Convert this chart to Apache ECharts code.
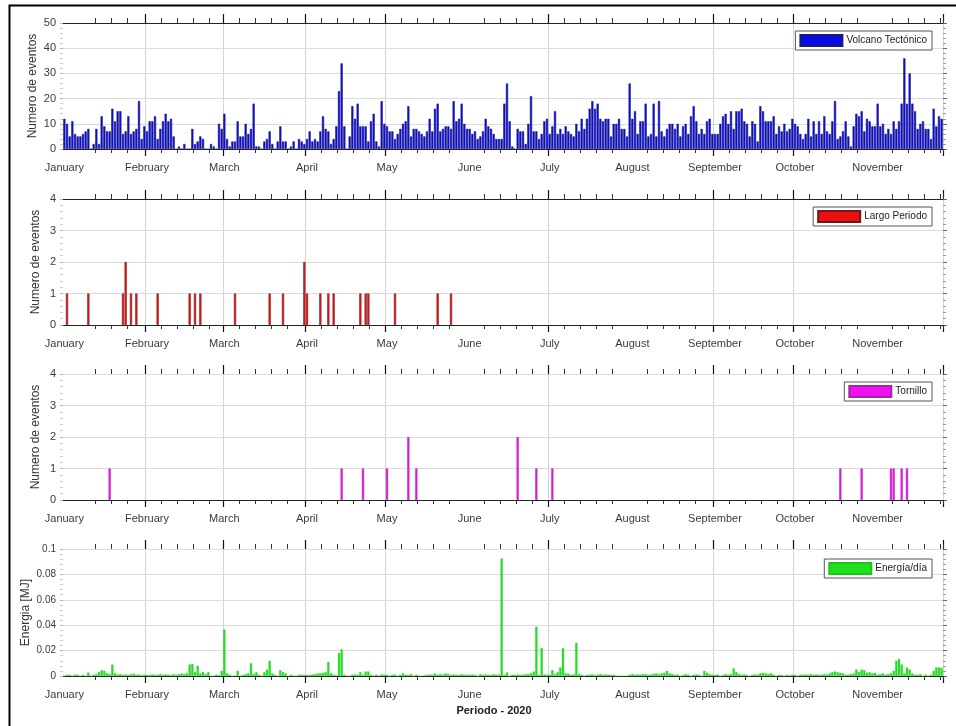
<!DOCTYPE html>
<html>
<head>
<meta charset="utf-8">
<script src="https://cdn.jsdelivr.net/npm/echarts@6/dist/echarts.min.js"></script>
<style>
  html, body { margin: 0; padding: 0; background: #ffffff; }
  #chart { width: 956px; height: 726px; }
</style>
</head>
<body>
<div id="chart"></div>
<script>
// Month labels on the time axis and the months that carry a long tick + grid line
const monthLabels = ['January', 'February', 'March', 'April', 'May', 'June',
                     'July', 'August', 'September', 'October', 'November', 'December'];
const gridMonths = [1, 2, 3, 4, 6, 8, 9];
const minorTickDays = [7, 13, 19, 25];

// Daily number of Volcano-Tectonic events (2020-01-01 .. 2020-11-25)
const vtJan = [12,10,5,11,6,5,5,6,7,8,0,2,8,2,13,9,7,7,16,11,15,15,6,7,13,6,7,8,19,4,9];
const vtFeb = [7,11,11,13,4,8,11,14,11,12,5,0,1,0,2,0,0,8,2,3,5,4,0,0,2,1,0,10,8];
const vtMar = [14,4,1,3,3,11,5,5,10,6,8,18,1,1,0,3,4,7,2,0,3,9,3,3,0,1,3,0,4,3,2];
const vtApr = [4,7,3,4,3,7,13,8,7,2,4,9,23,34,9,0,5,17,12,18,9,9,9,3,11,14,3,1,19,10];
const vtMay = [9,7,7,4,6,8,10,11,17,5,8,8,7,6,5,7,12,7,16,18,7,8,9,9,8,19,11,12,18,10,8];
const vtJun = [8,6,7,4,5,7,12,9,8,6,4,4,4,18,26,11,1,0,8,7,7,2,10,21,7,7,4,6,11,12];
const vtJul = [6,9,15,6,8,6,9,7,6,5,10,7,12,8,12,16,19,16,18,12,11,12,12,5,10,10,12,8,8,5,26];
const vtAug = [12,15,6,11,11,18,5,6,18,5,19,7,5,8,10,10,8,10,5,9,10,6,13,17,11,6,8,6,11,12,6];
const vtSep = [6,6,10,13,14,10,15,8,15,15,16,11,10,5,11,10,3,17,15,11,11,11,13,6,9,7,10,7,8,12];
const vtOct = [10,9,6,4,6,12,5,11,6,11,6,13,7,6,11,19,4,5,7,11,5,1,9,14,13,15,7,12,11,9,9];
const vtNov = [18,9,10,6,8,6,11,8,11,18,36,18,30,18,15,8,10,11,8,8,4,16,9,13,12];

// Long-period events: dates and daily counts
const lpDates = ['2020-01-02','2020-01-10','2020-01-23','2020-01-24','2020-01-26','2020-01-28',
                 '2020-02-05','2020-02-17','2020-02-19','2020-02-21','2020-03-05','2020-03-18',
                 '2020-03-23','2020-03-31','2020-04-01','2020-04-06','2020-04-09','2020-04-11',
                 '2020-04-21','2020-04-23','2020-04-24','2020-05-04','2020-05-20','2020-05-25'];
const lpCounts = [1,1,1,2,1,1, 1,1,1,1,1,1, 1,2,1,1,1,1, 1,1,1,1,1,1];

// Tornillo events: dates and daily counts
const trDates = ['2020-01-18','2020-04-14','2020-04-22','2020-05-01','2020-05-09','2020-05-12',
                 '2020-06-19','2020-06-26','2020-07-02','2020-10-18','2020-10-26','2020-11-06',
                 '2020-11-07','2020-11-10','2020-11-12'];
const trCounts = [1,1,1,1,2,1, 2,1,1,1,1,1, 1,1,1];

// Daily released energy [MJ]
const enJan = [0,0.001,0.001,0,0.0012,0.001,0,0.001,0,0.0027,0,0.001,0.0015,0.003,0.0045,0.004,0.002,0.0015,0.009,0.002,0.0012,0.0015,0.001,0.0012,0.0008,0.0015,0.0018,0.001,0.0012,0.0005,0.001];
const enFeb = [0.001,0.0008,0.0012,0.001,0.001,0.0015,0.001,0.0012,0.001,0.0008,0.0015,0.001,0.0015,0.002,0.0015,0.002,0.009,0.0095,0.003,0.008,0.002,0.003,0.0015,0.003,0,0,0.001,0.0005,0.004];
const enMar = [0.0365,0.002,0.001,0,0,0.004,0,0.001,0.0015,0.002,0.01,0.0015,0.003,0.001,0,0.003,0.005,0.012,0.002,0.001,0,0.0045,0.003,0.002,0,0.001,0,0,0.001,0.001,0.0008];
const enApr = [0.001,0.0008,0.0012,0.0015,0.002,0.002,0.0025,0.003,0.011,0.002,0.001,0.0005,0.018,0.021,0.001,0,0,0.001,0.0012,0.001,0.003,0.001,0.0035,0.0035,0.001,0,0.001,0,0.0012,0.001];
const enMay = [0.001,0,0.001,0.0012,0,0.001,0.002,0.001,0.0008,0.0015,0,0.001,0,0,0.0005,0.001,0.0012,0.001,0.0018,0.001,0.0015,0.0012,0.002,0.0015,0.001,0.0012,0.0008,0.001,0.0015,0.001,0.001];
const enJun = [0.001,0.0012,0.001,0,0.0015,0.001,0.0012,0.0008,0.001,0.0015,0.001,0.0012,0.0925,0.001,0.0027,0,0.001,0.001,0.0012,0.0008,0.001,0.0015,0.0015,0.002,0.0035,0.0387,0.001,0.022,0.0013,0.001];
const enJul = [0.001,0.0045,0.0015,0.003,0.0067,0.022,0.002,0.0018,0.001,0.0012,0.026,0.0015,0.001,0,0.001,0.001,0.0012,0.0008,0.001,0.0015,0.001,0.0012,0.001,0.0008,0.001,0,0,0,0,0,0.001];
const enAug = [0.0015,0.001,0.0012,0.001,0.0015,0.0015,0.001,0.0012,0.0018,0.002,0.0015,0.002,0.0025,0.004,0.002,0.0015,0.001,0.0012,0,0.001,0.0015,0.001,0,0.001,0.0012,0.001,0,0.004,0.0025,0.0015,0.001];
const enSep = [0.001,0.0012,0,0.001,0.0015,0.001,0.0015,0.006,0.003,0.0015,0.001,0.0012,0.001,0,0.001,0.0012,0.001,0.002,0.0025,0.002,0.0015,0.002,0.001,0,0.001,0.0008,0,0.001,0.0005,0.001];
const enOct = [0.001,0,0.001,0.001,0.0012,0.001,0.0015,0.001,0.0012,0.001,0.001,0.0015,0.0012,0.002,0.003,0.0035,0.003,0.0025,0.002,0.001,0.001,0.0015,0.002,0.005,0.003,0.005,0.0045,0.0025,0.003,0.002,0.0025];
const enNov = [0.001,0.0015,0.002,0.001,0.0015,0.002,0.004,0.012,0.0133,0.009,0.002,0.0067,0.005,0.002,0.001,0.001,0.0015,0,0.001,0,0.001,0.004,0.0067,0.0067,0.0065];

const volcanoTectonico = [].concat(vtJan, vtFeb, vtMar, vtApr, vtMay, vtJun, vtJul, vtAug, vtSep, vtOct, vtNov);
const energia = [].concat(enJan, enFeb, enMar, enApr, enMay, enJun, enJul, enAug, enSep, enOct, enNov);

// One category per day
const days = [], dayMonth = [], dayOfMonth = [];
const t0 = Date.UTC(2020, 0, 1);
for (let i = 0; i < volcanoTectonico.length; i++) {
  const dt = new Date(t0 + i * 86400000);
  days.push(dt.toISOString().slice(0, 10));
  dayMonth.push(dt.getUTCMonth());
  dayOfMonth.push(dt.getUTCDate());
}

function dailySeries(dates, counts) {
  const out = days.map(() => null);
  dates.forEach((d, i) => { out[days.indexOf(d)] = counts[i]; });
  return out;
}
const largoPeriodo = dailySeries(lpDates, lpCounts);
const tornillo = dailySeries(trDates, trCounts);

const FONT = 'Liberation Sans, Arial, sans-serif';
const isMonthStart = (i) => dayOfMonth[i] === 1;
const isMajor = (i) => dayOfMonth[i] === 1 && gridMonths.includes(dayMonth[i]);
const isMinor = (i) => minorTickDays.includes(dayOfMonth[i]) && !(dayMonth[i] === 0 && dayOfMonth[i] === 7);

const panels = [
  { top: 23,  height: 126, max: 50,  interval: 10,   name: 'Numero de eventos', gap: 24, labelSize: 11, topLine: true },
  { top: 199, height: 126, max: 4,   interval: 1,    name: 'Numero de eventos', gap: 21, labelSize: 11, topLine: true },
  { top: 374, height: 126, max: 4,   interval: 1,    name: 'Numero de eventos', gap: 21, labelSize: 11, topLine: false },
  { top: 549, height: 127, max: 0.1, interval: 0.02, name: 'Energia [MJ]',      gap: 31, labelSize: 10, topLine: false }
];

const grid = [], xAxis = [], yAxis = [];
panels.forEach((p, k) => {
  grid.push({ left: 63, right: 13, top: p.top, height: p.height });
  // main bottom axis: month labels, long ticks, vertical grid lines
  xAxis.push({
    type: 'category', gridIndex: k, data: days, position: 'bottom',
    axisLine: { show: true, lineStyle: { color: '#222', width: 1 } },
    axisTick: { show: true, interval: isMajor, length: 7, lineStyle: { color: '#111', width: 1.2 } },
    axisLabel: { show: true, interval: isMonthStart, margin: 13, fontSize: 11, color: '#3a3a3a', fontFamily: FONT,
                 formatter: (v) => monthLabels[new Date(v + 'T00:00:00Z').getUTCMonth()] },
    splitLine: { show: true, interval: isMajor, lineStyle: { color: '#d4d4d4', width: 1 } }
  });
  // bottom short ticks
  xAxis.push({
    type: 'category', gridIndex: k, data: days, position: 'bottom',
    axisLine: { show: false },
    axisTick: { show: true, interval: isMinor, length: 4, lineStyle: { color: '#333' } },
    axisLabel: { show: false }, splitLine: { show: false }
  });
  // top axis with long ticks
  xAxis.push({
    type: 'category', gridIndex: k, data: days, position: 'top',
    axisLine: { show: p.topLine, lineStyle: { color: '#222', width: 1.2 } },
    axisTick: { show: true, interval: isMajor, length: 9, lineStyle: { color: '#111', width: 1.2 } },
    axisLabel: { show: false }, splitLine: { show: false }
  });
  // top short ticks
  xAxis.push({
    type: 'category', gridIndex: k, data: days, position: 'top',
    axisLine: { show: false },
    axisTick: { show: true, interval: isMinor, length: 5, lineStyle: { color: '#333' } },
    axisLabel: { show: false }, splitLine: { show: false }
  });
  yAxis.push({
    type: 'value', gridIndex: k, min: 0, max: p.max, interval: p.interval,
    name: p.name, nameLocation: 'middle', nameGap: p.gap, nameRotate: 90, nameMoveOverlap: false,
    nameTextStyle: { fontSize: 12, color: '#333', fontFamily: FONT },
    axisLine: { show: false },
    axisTick: { show: true, length: 3, lineStyle: { color: '#bbb' } },
    minorTick: { show: true, splitNumber: 5, length: 3, lineStyle: { color: '#ccc' } },
    axisLabel: { fontSize: p.labelSize, color: '#3a3a3a', margin: 7, fontFamily: FONT },
    splitLine: { show: true, lineStyle: { color: '#dcdcdc', width: 1 } }
  });
  yAxis.push({
    type: 'value', gridIndex: k, min: 0, max: p.max, interval: p.interval, position: 'right',
    axisLine: { show: false }, axisLabel: { show: false }, splitLine: { show: false },
    axisTick: { show: true, length: 4, lineStyle: { color: '#666' } },
    minorTick: { show: true, splitNumber: 5, length: 3, lineStyle: { color: '#999' } }
  });
});

function legendFor(name, top) {
  return {
    data: [name], right: 24, top: top, orient: 'horizontal', icon: 'rect',
    itemWidth: 42, itemHeight: 11, itemGap: 0, selectedMode: false,
    padding: [3, 5, 3, 4], borderColor: '#555', borderWidth: 1, backgroundColor: '#fff',
    textStyle: { fontSize: 10, color: '#222', fontFamily: FONT, padding: [0, 0, 0, -1] }
  };
}

function barSeries(name, k, data, fill, edge, edgeWidth) {
  return {
    name: name, type: 'bar', xAxisIndex: k * 4, yAxisIndex: k * 2, data: data,
    barCategoryGap: '18%', animation: false,
    itemStyle: { color: fill, borderColor: edge, borderWidth: edgeWidth }
  };
}

const chart = echarts.init(document.getElementById('chart'), null, { renderer: 'canvas' });
chart.setOption({
  backgroundColor: '#ffffff',
  animation: false,
  textStyle: { fontFamily: FONT },
  grid: grid, xAxis: xAxis, yAxis: yAxis,
  legend: [
    legendFor('Volcano Tectónico', 31),
    legendFor('Largo Periodo', 207),
    legendFor('Tornillo', 382),
    legendFor('Energía/día', 559)
  ],
  series: [
    barSeries('Volcano Tectónico', 0, volcanoTectonico, '#0a0ae8', '#1c1c6e', 0.5),
    barSeries('Largo Periodo', 1, largoPeriodo, '#ee1010', '#6a1a1a', 0.5),
    barSeries('Tornillo', 2, tornillo, '#f010f0', '#9a2a9a', 0.4),
    barSeries('Energía/día', 3, energia, '#1fe21f', '#1fc21f', 0.3)
  ],
  graphic: [
    { type: 'rect', left: 7, top: 3, shape: { width: 960, height: 740 },
      style: { fill: 'none', stroke: '#000', lineWidth: 2 }, silent: true },
    { type: 'text', x: 494, y: 711,
      style: { text: 'Periodo - 2020', font: 'bold 11px ' + FONT, fill: '#222', align: 'center', verticalAlign: 'middle' } }
  ]
});
</script>
</body>
</html>
